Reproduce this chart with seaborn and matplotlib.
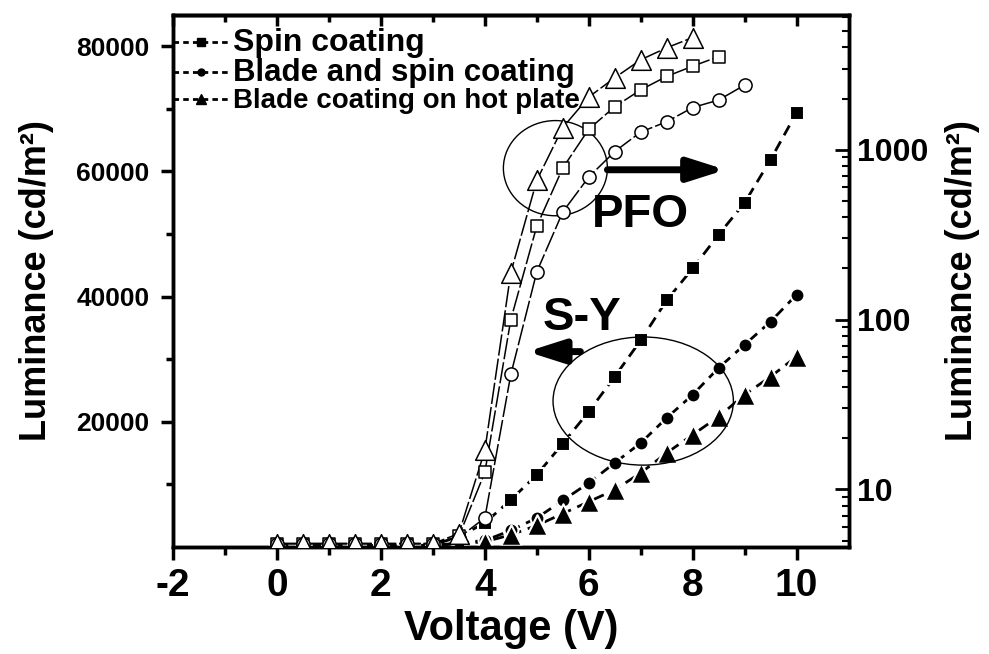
import numpy as np
import seaborn as sns
import matplotlib.pyplot as plt
from matplotlib.patches import Ellipse
from matplotlib.lines import Line2D
from matplotlib.ticker import FixedLocator, LogLocator, NullFormatter

sns.set_theme(style='ticks')
plt.rcParams['font.family'] = ['Liberation Sans', 'DejaVu Sans']
plt.rcParams['font.weight'] = 'bold'
plt.rcParams['axes.unicode_minus'] = False
for key in ['text.color', 'axes.labelcolor', 'xtick.color', 'ytick.color', 'axes.edgecolor']:
    plt.rcParams[key] = 'black'

# S-Y (left axis, linear)
v_sy = [0, 0.5, 1, 1.5, 2, 2.5, 3, 3.5, 4, 4.5, 5, 5.5, 6, 6.5, 7, 7.5, 8, 8.5, 9, 9.5, 10]
sy_spin = [150, 150, 150, 150, 150, 150, 300, 1600, 3800, 7500, 11500, 16500, 21600,
           27200, 33000, 39400, 44500, 49900, 55000, 61900, 69400]
sy_blade_spin = [150, 150, 150, 150, 150, 150, 200, 600, 1000, 2600, 4600, 7400, 10200,
                 13400, 16600, 20600, 24300, 28600, 32300, 36000, 40300]
sy_hot_plate = [150, 150, 150, 150, 150, 150, 200, 500, 800, 1900, 3400, 5300, 7200,
                9100, 11800, 15000, 17900, 20800, 24300, 27200, 30400]

# PFO (right axis, log)
v_pfo_spin = [0, 0.5, 1, 1.5, 2, 2.5, 3, 3.5, 4, 4.5, 5, 5.5, 6, 6.5, 7, 7.5, 8, 8.5]
pfo_spin = [4.8, 4.8, 4.8, 4.8, 4.8, 4.8, 4.8, 5.3, 12.6, 100, 355, 780, 1320, 1790, 2250,
            2700, 3100, 3530]
v_pfo_blade_spin = [0, 0.5, 1, 1.5, 2, 2.5, 3, 3.5, 4, 4.5, 5, 5.5, 6, 6.5, 7, 7.5, 8, 8.5, 9]
pfo_blade_spin = [4.8, 4.8, 4.8, 4.8, 4.8, 4.8, 4.8, 5.2, 6.8, 47.5, 191, 430, 690, 975,
                  1270, 1460, 1770, 1960, 2400]
v_pfo_hot_plate = [0, 0.5, 1, 1.5, 2, 2.5, 3, 3.5, 4, 4.5, 5, 5.5, 6, 6.5, 7, 7.5, 8]
pfo_hot_plate = [4.8, 4.8, 4.8, 4.8, 4.8, 4.8, 4.8, 5.5, 17, 189, 660, 1350, 2040, 2650,
                 3380, 3980, 4570]

labels = ['Spin coating', 'Blade and spin coating', 'Blade coating on hot plate']

fig = plt.figure(figsize=(9.89, 6.54), dpi=100)
ax = fig.add_axes([0.175, 0.164, 0.683, 0.813])
ax2 = ax.twinx()
ax2.set_yscale('log')

# S-Y curves: filled markers, dashed thick lines
for y, mk, size in [(sy_spin, 's', 95), (sy_blade_spin, 'o', 100), (sy_hot_plate, '^', 220)]:
    sns.lineplot(x=v_sy, y=y, ax=ax, color='black', lw=2, linestyle=(0, (4, 2.5)),
                 estimator=None, sort=False)
    sns.scatterplot(x=v_sy, y=y, ax=ax, marker=mk, s=size, color='black',
                    edgecolor='white', linewidth=1.5, zorder=3)

# PFO curves: open markers, thin lines
for v, y, mk, size in [(v_pfo_spin, pfo_spin, 's', 85), (v_pfo_blade_spin, pfo_blade_spin, 'o', 90),
                       (v_pfo_hot_plate, pfo_hot_plate, '^', 200)]:
    sns.lineplot(x=v, y=y, ax=ax2, color='black', lw=1.1, linestyle=(0, (14, 2)),
                 estimator=None, sort=False)
    sns.scatterplot(x=v, y=y, ax=ax2, marker=mk, s=size, color='white',
                    edgecolor='black', linewidth=1.1, zorder=3)

# axes limits and ticks
ax.set_xlim(-2, 11)
ax.set_xticks([-2, 0, 2, 4, 6, 8, 10])
ax.set_xticks([-1, 1, 3, 5, 7, 9], minor=True)
ax.set_ylim(0, 85000)
ax.set_yticks([20000, 40000, 60000, 80000])
ax.set_yticks([10000, 30000, 50000, 70000], minor=True)
ax2.set_ylim(4.6, 6200)
ax2.yaxis.set_major_locator(FixedLocator([10, 100, 1000]))
ax2.set_yticklabels(['10', '100', '1000'])
ax2.yaxis.set_minor_locator(LogLocator(base=10, subs=np.arange(2, 10)))
ax2.yaxis.set_minor_formatter(NullFormatter())

ax.tick_params(axis='x', which='major', direction='out', length=9, width=2.5, labelsize=28, pad=6)
ax.tick_params(axis='x', which='minor', direction='out', length=6, width=2.5)
ax.tick_params(axis='y', which='major', direction='out', length=9, width=2.5, labelsize=19, pad=8)
ax.tick_params(axis='y', which='minor', direction='out', length=5, width=2.5)
ax2.tick_params(axis='y', which='major', direction='in', length=10, width=2, labelsize=23, pad=6)
ax2.tick_params(axis='y', which='minor', direction='in', length=5, width=1.5)

top = ax.secondary_xaxis('top')
top.set_xticks([-2, 0, 2, 4, 6, 8, 10])
top.set_xticks([-1, 1, 3, 5, 7, 9], minor=True)
top.set_xticklabels([])
top.tick_params(axis='x', which='major', direction='in', length=8, width=2.5)
top.tick_params(axis='x', which='minor', direction='in', length=5, width=2.5)

for a in (ax, ax2, top):
    for s in a.spines.values():
        s.set_linewidth(2.5)
        s.set_color('black')

ax.set_xlabel('Voltage (V)', fontsize=30, fontweight='bold', labelpad=4)
ax.set_ylabel('Luminance (cd/m²)', fontsize=26, fontweight='bold', labelpad=16)
ax2.set_ylabel('Luminance (cd/m²)', fontsize=26, fontweight='bold', labelpad=12)

# legend for the filled (S-Y) series
handles = [Line2D([], [], color='black', lw=2, linestyle=(0, (2, 1.5)), marker=mk, ms=ms,
                  mfc='black', mec='black')
           for mk, ms in [('s', 6), ('o', 5), ('^', 7)]]
leg = ax2.legend(handles, labels, loc='upper left', bbox_to_anchor=(0.0, 0.975), frameon=False,
                 borderpad=0, borderaxespad=0, handlelength=2.0, handletextpad=0.15,
                 labelspacing=0.0, fontsize=20)
for t, fs in zip(leg.get_texts(), [23, 22.5, 20]):
    t.set_fontsize(fs)

# annotations
ax2.add_patch(Ellipse((0.566, 0.712), 0.154, 0.179, transform=ax2.transAxes,
                      fill=False, lw=1, ec='black'))
ax2.annotate('', xy=(0.818, 0.709), xytext=(0.643, 0.709), xycoords='axes fraction',
             arrowprops=dict(arrowstyle='-|>,head_length=2.2,head_width=0.7', lw=5,
                             color='black', mutation_scale=10, shrinkA=0, shrinkB=0))
ax2.text(0.692, 0.624, 'PFO', transform=ax2.transAxes, fontsize=34, fontweight='bold',
         ha='center', va='center')

ax2.add_patch(Ellipse((0.696, 0.274), 0.267, 0.241, transform=ax2.transAxes,
                      fill=False, lw=1, ec='black'))
ax2.annotate('', xy=(0.524, 0.367), xytext=(0.603, 0.367), xycoords='axes fraction',
             arrowprops=dict(arrowstyle='-|>,head_length=2.2,head_width=0.7', lw=5,
                             color='black', mutation_scale=10, shrinkA=0, shrinkB=0))
ax2.text(0.606, 0.430, 'S-Y', transform=ax2.transAxes, fontsize=34, fontweight='bold',
         ha='center', va='center')

fig.savefig('out.png', dpi=100)
